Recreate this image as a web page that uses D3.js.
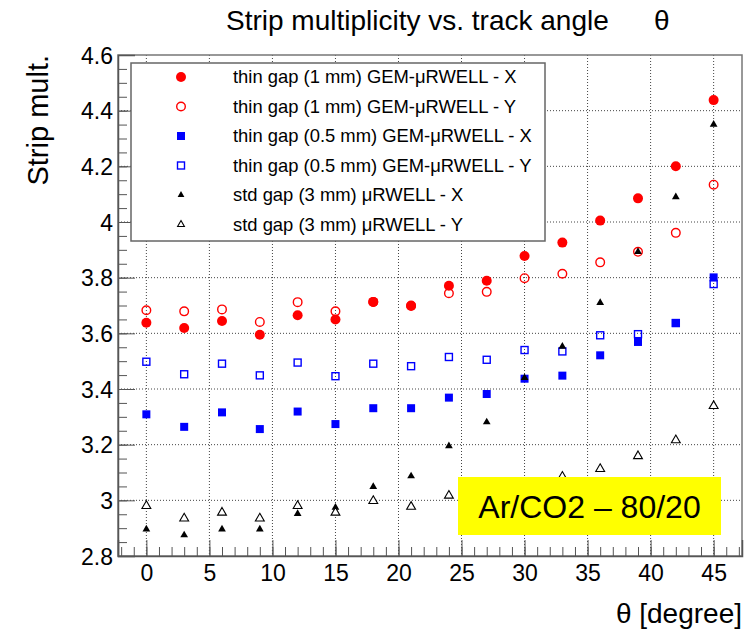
<!DOCTYPE html>
<html>
<head>
<meta charset="utf-8">
<script src="https://cdn.jsdelivr.net/npm/d3@7"></script>
<style>
  body { margin: 0; background: #fff; }
  text { font-family: "Liberation Sans", Arial, Helvetica, sans-serif; }
</style>
</head>
<body>
<div id="chart"></div>
<script>
// track angle (degree)
var theta = [0, 3, 6, 9, 12, 15, 18, 21, 24, 27, 30, 33, 36, 39, 42, 45];

// strip multiplicity, one array per detector / view
var thin1X = [3.638, 3.619, 3.644, 3.595, 3.665, 3.650, 3.713, 3.698, 3.771, 3.789, 3.878, 3.926, 4.005, 4.085, 4.200, 4.438];
var thin1Y = [3.683, 3.679, 3.686, 3.641, 3.712, 3.679, 3.713, 3.700, 3.744, 3.749, 3.798, 3.814, 3.855, 3.893, 3.961, 4.134];
var thin05X = [3.309, 3.264, 3.316, 3.256, 3.319, 3.274, 3.331, 3.331, 3.369, 3.382, 3.437, 3.448, 3.521, 3.569, 3.637, 3.801];
var thin05Y = [3.498, 3.453, 3.491, 3.449, 3.495, 3.446, 3.491, 3.482, 3.515, 3.505, 3.540, 3.535, 3.593, 3.597, 3.637, 3.777];
var std3X = [2.896, 2.875, 2.896, 2.896, 2.952, 2.974, 3.049, 3.087, 3.195, 3.281, 3.440, 3.553, 3.710, 3.893, 4.090, 4.350];
var std3Y = [2.980, 2.935, 2.956, 2.935, 2.980, 2.956, 2.998, 2.977, 3.017, 3.030, 3.050, 3.085, 3.113, 3.159, 3.216, 3.339];

var seriesNames = [
    "thin gap (1 mm) GEM-\u03bcRWELL - X",
    "thin gap (1 mm) GEM-\u03bcRWELL - Y",
    "thin gap (0.5 mm) GEM-\u03bcRWELL - X",
    "thin gap (0.5 mm) GEM-\u03bcRWELL - Y",
    "std gap (3 mm) \u03bcRWELL - X",
    "std gap (3 mm) \u03bcRWELL - Y"
];
var xTicks = [0, 5, 10, 15, 20, 25, 30, 35, 40, 45];
var yTicks = [2.8, 3, 3.2, 3.4, 3.6, 3.8, 4, 4.2, 4.4, 4.6];

var app = {};
app.W = 756;
app.H = 634;
app.m = {top: 55, right: 14, bottom: 78, left: 118};
app.cw = app.W - app.m.left - app.m.right;
app.ch = app.H - app.m.top - app.m.bottom;

// marker style per series: shape, colour, filled
app.styles = [
    {shape: "circle", color: "#ff0000", fill: true},
    {shape: "circle", color: "#ff0000", fill: false},
    {shape: "square", color: "#0000ff", fill: true},
    {shape: "square", color: "#0000ff", fill: false},
    {shape: "triangle", color: "#000000", fill: true},
    {shape: "triangle", color: "#000000", fill: false}
];

app.drawMarker = function (g, st, small) {
    if (st.shape === "circle") {
        g.append("circle").attr("r", st.fill ? 5 : 4.3)
            .attr("fill", st.fill ? st.color : "none")
            .attr("stroke", st.color).attr("stroke-width", st.fill ? 0 : 1.4);
    } else if (st.shape === "square") {
        var s = st.fill ? 8 : 7;
        g.append("rect").attr("x", -s / 2).attr("y", -s / 2).attr("width", s).attr("height", s)
            .attr("fill", st.fill ? st.color : "none")
            .attr("stroke", st.color).attr("stroke-width", st.fill ? 0 : 1.4);
    } else {
        var sz = small ? 20 : (st.fill ? 26 : 34);
        g.append("path").attr("d", d3.symbol().type(d3.symbolTriangle).size(sz)())
            .attr("fill", st.fill ? st.color : "#fff")
            .attr("stroke", st.color).attr("stroke-width", st.fill ? 0 : 1.1);
    }
};

app.run = function () {
    var svg = d3.select("#chart").append("svg")
        .attr("width", app.W).attr("height", app.H);
    svg.append("rect").attr("width", app.W).attr("height", app.H).attr("fill", "#fff");

    var x = d3.scaleLinear().domain([-2.25, 47.25]).range([0, app.cw]);
    var y = d3.scaleLinear().domain([2.8, 4.6]).range([app.ch, 0]);

    var plot = svg.append("g")
        .attr("transform", "translate(" + app.m.left + "," + app.m.top + ")");

    // grid
    plot.append("g").selectAll("line").data(xTicks).enter().append("line")
        .attr("x1", d => x(d)).attr("x2", d => x(d)).attr("y1", 0).attr("y2", app.ch)
        .attr("stroke", "#444").attr("stroke-dasharray", "1,2");
    plot.append("g").selectAll("line").data(yTicks.slice(1, -1)).enter().append("line")
        .attr("x1", 0).attr("x2", app.cw).attr("y1", d => y(d)).attr("y2", d => y(d))
        .attr("stroke", "#444").attr("stroke-dasharray", "1,2");

    // frame
    plot.append("rect").attr("width", app.cw).attr("height", app.ch)
        .attr("fill", "none").attr("stroke", "#777").attr("stroke-width", 1.5);

    // axes, ticks drawn inward
    var minorX = d3.range(-2, 48, 1);
    var minorY = d3.range(2.8, 4.6001, 0.05);
    plot.append("g").attr("transform", "translate(0," + app.ch + ")")
        .call(d3.axisBottom(x).tickValues(minorX).tickSize(-9).tickFormat(""))
        .call(g => g.select(".domain").remove());
    var xa = plot.append("g").attr("class", "xAxis").attr("transform", "translate(0," + app.ch + ")")
        .call(d3.axisBottom(x).tickValues(xTicks).tickSize(-16).tickPadding(9).tickFormat(d3.format("d")));
    plot.append("g")
        .call(d3.axisLeft(y).tickValues(minorY).tickSize(-9).tickFormat(""))
        .call(g => g.select(".domain").remove());
    var ya = plot.append("g").attr("class", "yAxis")
        .call(d3.axisLeft(y).tickValues(yTicks).tickSize(-17).tickPadding(5).tickFormat(d => d3.format("")(+d.toFixed(1))));

    plot.selectAll(".tick line").attr("stroke", "#555");
    plot.selectAll(".domain").attr("stroke", "#555").attr("stroke-width", 1.5);
    xa.selectAll("text").attr("font-size", 23).attr("fill", "#000");
    ya.selectAll("text").attr("font-size", 23).attr("fill", "#000").attr("dy", "0.36em");

    // data points
    var allSeries = [thin1X, thin1Y, thin05X, thin05Y, std3X, std3Y];
    allSeries.forEach(function (vals, i) {
        var pts = plot.append("g").selectAll("g").data(vals).enter().append("g")
            .attr("transform", (d, j) => "translate(" + x(theta[j]) + "," + y(d) + ")");
        pts.each(function () { app.drawMarker(d3.select(this), app.styles[i], false); });
    });

    // legend
    var leg = svg.append("g").attr("transform", "translate(131,63)");
    leg.append("rect").attr("width", 414).attr("height", 178)
        .attr("fill", "#fff").attr("stroke", "#666").attr("stroke-width", 1.5);
    seriesNames.forEach(function (name, i) {
        var row = leg.append("g").attr("transform", "translate(0," + (14 + i * 29.5) + ")");
        var mk = row.append("g").attr("transform", "translate(50,0)");
        app.drawMarker(mk, app.styles[i], true);
        row.append("text").attr("x", 102).attr("y", 0).attr("dy", "0.35em")
            .attr("font-size", 18.4).text(name);
    });

    // gas label
    var gas = svg.append("g");
    gas.append("rect").attr("x", 458).attr("y", 477).attr("width", 263).attr("height", 58).attr("fill", "#ffff00");
    gas.append("text").attr("x", 589.5).attr("y", 518).attr("text-anchor", "middle")
        .attr("font-size", 32).text("Ar/CO2 \u2013 80/20");

    // titles
    svg.append("text").attr("x", 226).attr("y", 30).attr("font-size", 28)
        .text("Strip multiplicity vs. track angle");
    svg.append("text").attr("x", 654).attr("y", 30).attr("font-size", 28).text("\u03b8");
    svg.append("text").attr("transform", "translate(48,55) rotate(-90)")
        .attr("text-anchor", "end").attr("font-size", 29).text("Strip mult.");
    svg.append("text").attr("x", 742).attr("y", 623).attr("text-anchor", "end")
        .attr("font-size", 28).text("\u03b8 [degree]");
};

window.onload = app.run;
</script>
</body>
</html>
